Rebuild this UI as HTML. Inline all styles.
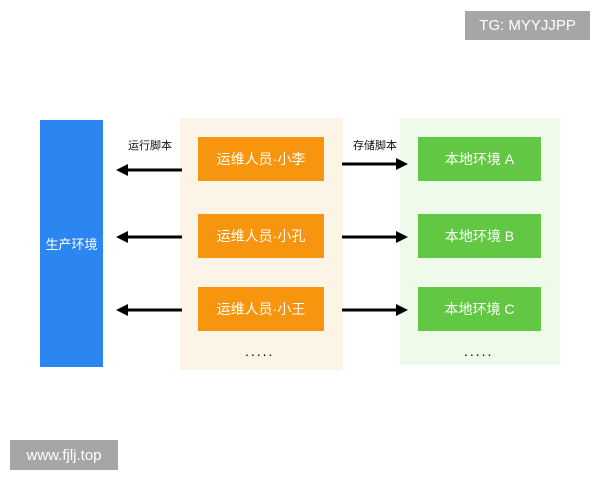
<!DOCTYPE html>
<html><head><meta charset="utf-8"><style>
body{margin:0;width:600px;height:480px;background:#fff;position:relative;overflow:hidden;font-family:"Liberation Sans","Noto Sans CJK SC",sans-serif}
div{position:absolute;box-sizing:border-box}
.o{left:198px;width:126px;height:44px;background:#f7950f;color:#fff;font-size:14px;display:flex;align-items:center;justify-content:center}
.g{left:418px;width:123px;height:44px;background:#62c843;color:#fff;font-size:14px;display:flex;align-items:center;justify-content:center}
.l{font-size:11px;color:#111}
</style></head><body>
<div style="left:465px;top:11px;width:125px;height:29px;background:#a6a6a6;color:#fff;font-size:15px;display:flex;align-items:center;justify-content:center">TG: MYYJJPP</div>
<div style="left:180px;top:118px;width:163px;height:252px;background:#fdf4e8"></div>
<div style="left:400px;top:118px;width:160px;height:247px;background:#eefbea"></div>
<div style="left:40px;top:120px;width:63px;height:247px;background:#2b86f2;color:#fff;font-size:13px;display:flex;align-items:center;justify-content:center">生产环境</div>
<div class="o" style="top:137px">运维人员·小李</div>
<div class="o" style="top:214px">运维人员·小孔</div>
<div class="o" style="top:287px">运维人员·小王</div>
<div class="g" style="top:137px">本地环境 A</div>
<div class="g" style="top:214px">本地环境 B</div>
<div class="g" style="top:287px">本地环境 C</div>
<div class="l" style="left:128px;top:137px">运行脚本</div>
<div class="l" style="left:353px;top:137px">存储脚本</div>
<div style="left:245px;top:343px;font-size:14px;letter-spacing:2px">.....</div>
<div style="left:464px;top:343px;font-size:14px;letter-spacing:2px">.....</div>
<svg width="600" height="480" style="position:absolute;left:0;top:0">
<g stroke="#000" stroke-width="3">
<line x1="182" y1="170" x2="126" y2="170"/><line x1="182" y1="237" x2="126" y2="237"/><line x1="182" y1="310" x2="126" y2="310"/>
<line x1="342" y1="164" x2="398" y2="164"/><line x1="342" y1="237" x2="398" y2="237"/><line x1="342" y1="310" x2="398" y2="310"/>
</g>
<g fill="#000">
<polygon points="116,170 128,164 128,176"/><polygon points="116,237 128,231 128,243"/><polygon points="116,310 128,304 128,316"/>
<polygon points="408,164 396,158 396,170"/><polygon points="408,237 396,231 396,243"/><polygon points="408,310 396,304 396,316"/>
</g></svg>
<div style="left:10px;top:440px;width:108px;height:30px;background:#a6a6a6;color:#fff;font-size:15px;display:flex;align-items:center;justify-content:center">www.fjlj.top</div>
</body></html>
